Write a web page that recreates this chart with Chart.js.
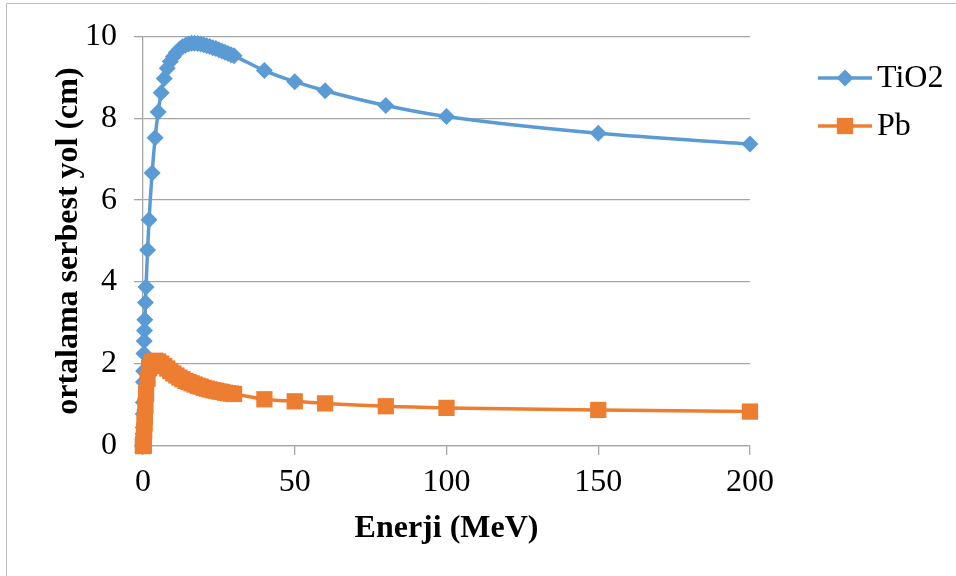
<!DOCTYPE html>
<html>
<head>
<meta charset="utf-8">
<title>Ortalama serbest yol</title>
<script src="https://cdn.jsdelivr.net/npm/chart.js@4.4.1/dist/chart.umd.min.js"></script>
<style>
  html, body { margin: 0; padding: 0; background: #ffffff; }
  #wrap { width: 956px; height: 576px; position: relative; }
</style>
</head>
<body>
<div id="wrap"><canvas id="c" width="956" height="576"></canvas></div>
<script>
// Photon energies (MeV)
const energies = [0.01, 0.015, 0.02, 0.03, 0.04, 0.05, 0.06, 0.08, 0.1, 0.15, 0.2, 0.3, 0.4, 0.5, 0.6, 0.8, 1, 1.5,
  2, 3, 4, 5, 6, 7, 8, 9, 10, 11, 12, 13, 14, 15, 16, 17, 18, 19, 20, 21, 22, 23, 24, 25, 26, 27, 28, 29, 30,
  40, 50, 60, 80, 100, 150, 200];

// Mean free path in TiO2 (cm)
const tio2 = [0.004, 0.012, 0.027, 0.08, 0.17, 0.30, 0.45, 0.78, 1.06, 1.56, 1.83, 2.26, 2.56, 2.82, 3.08, 3.50, 3.88, 4.78,
  5.52, 6.66, 7.52, 8.15, 8.62, 8.97, 9.22, 9.38, 9.50, 9.60, 9.68, 9.74, 9.78, 9.81, 9.83, 9.83, 9.82, 9.81, 9.79,
  9.77, 9.75, 9.72, 9.70, 9.67, 9.64, 9.61, 9.58, 9.55, 9.52,
  9.16, 8.89, 8.67, 8.31, 8.04, 7.63, 7.37];

// Mean free path in Pb (cm)
const pb = [0.001, 0.001, 0.001, 0.003, 0.006, 0.011, 0.017, 0.035, 0.016, 0.044, 0.088, 0.22, 0.37, 0.55, 0.71, 0.98, 1.27, 1.64,
  1.90, 2.05, 2.08, 2.06, 2.01, 1.95, 1.89, 1.83, 1.77, 1.72, 1.67, 1.63, 1.59, 1.56, 1.53, 1.50, 1.47, 1.45, 1.42,
  1.40, 1.38, 1.36, 1.35, 1.33, 1.32, 1.30, 1.29, 1.28, 1.27,
  1.14, 1.09, 1.04, 0.97, 0.93, 0.88, 0.84];

const seriesNames = ['TiO2', 'Pb'];
const xTicks = [0, 50, 100, 150, 200];
const yTicks = [0, 2, 4, 6, 8, 10];

const serif = "'Liberation Serif', 'Times New Roman', serif";
const BLUE = '#5b9bd5';
const ORANGE = '#ed7d31';
const GRID = '#a6a6a6';

const toPoints = (ys) => energies.map((e, i) => ({ x: e, y: ys[i] }));

// Legend drawn beside the plot: a short line with the series marker, then the name
const sideLegend = {
  id: 'sideLegend',
  afterDraw(chart) {
    const ctx = chart.ctx;
    const x0 = 818, x1 = 872, rows = [78, 126];
    chart.data.datasets.forEach((ds, i) => {
      const y = rows[i];
      ctx.save();
      ctx.strokeStyle = ds.borderColor;
      ctx.lineWidth = ds.borderWidth;
      ctx.beginPath();
      ctx.moveTo(x0, y);
      ctx.lineTo(x1, y);
      ctx.stroke();
      ctx.fillStyle = ds.pointBackgroundColor;
      ctx.strokeStyle = ds.pointBorderColor;
      Chart.helpers.drawPoint(ctx, {
        pointStyle: ds.pointStyle, radius: ds.pointRadius, borderWidth: 0
      }, (x0 + x1) / 2, y);
      ctx.fillStyle = '#000000';
      ctx.font = '32px ' + serif;
      ctx.textAlign = 'left';
      ctx.textBaseline = 'middle';
      ctx.fillText(ds.label, 877, y + 1);
      ctx.restore();
    });
  }
};

// Thin frame along the top and left edges of the figure
const frame = {
  id: 'frame',
  beforeDraw(chart) {
    const ctx = chart.ctx;
    ctx.save();
    ctx.fillStyle = '#ffffff';
    ctx.fillRect(0, 0, chart.width, chart.height);
    ctx.strokeStyle = '#bdbdbd';
    ctx.lineWidth = 1;
    ctx.beginPath();
    ctx.moveTo(6.5, chart.height);
    ctx.lineTo(6.5, 3.5);
    ctx.lineTo(chart.width, 3.5);
    ctx.stroke();
    ctx.restore();
  }
};

new Chart(document.getElementById('c'), {
  type: 'line',
  data: {
    datasets: [
      {
        label: seriesNames[0],
        data: toPoints(tio2),
        borderColor: BLUE,
        backgroundColor: BLUE,
        pointBackgroundColor: BLUE,
        pointBorderColor: BLUE,
        borderWidth: 3.5,
        pointStyle: 'rectRot',
        pointRadius: 8.5,
        pointBorderWidth: 0,
        cubicInterpolationMode: 'monotone',
        clip: false,
        order: 1
      },
      {
        label: seriesNames[1],
        data: toPoints(pb),
        borderColor: ORANGE,
        backgroundColor: ORANGE,
        pointBackgroundColor: ORANGE,
        pointBorderColor: ORANGE,
        borderWidth: 3.5,
        pointStyle: 'rect',
        pointRadius: 11.5,
        pointBorderWidth: 0,
        cubicInterpolationMode: 'monotone',
        clip: false,
        order: 0
      }
    ]
  },
  options: {
    responsive: false,
    animation: false,
    devicePixelRatio: 1,
    layout: { padding: { top: 35, right: 206, left: 0, bottom: 0 } },
    plugins: {
      legend: { display: false },
      tooltip: { enabled: false }
    },
    scales: {
      x: {
        type: 'linear',
        min: 0,
        max: 200,
        afterBuildTicks(scale) { scale.ticks = xTicks.map(v => ({ value: v })); },
        afterFit(scale) { scale.height = 130; },
        ticks: {
          color: '#000000',
          font: { family: serif, size: 32 },
          padding: 8,
          maxRotation: 0
        },
        grid: { drawOnChartArea: false, drawTicks: true, tickLength: 9, color: GRID, lineWidth: 1.3 },
        border: { display: true, color: GRID, width: 1.3 },
        title: {
          display: true,
          text: 'Enerji (MeV)',
          color: '#000000',
          font: { family: serif, size: 32, weight: 'bold' },
          padding: { top: 0, bottom: 28 }
        }
      },
      y: {
        type: 'linear',
        min: 0,
        max: 10,
        afterBuildTicks(scale) { scale.ticks = yTicks.map(v => ({ value: v })); },
        afterFit(scale) { scale.width = 143; },
        ticks: {
          color: '#000000',
          font: { family: serif, size: 32 },
          padding: 17
        },
        grid: { drawOnChartArea: true, drawTicks: true, tickLength: 9, color: GRID, lineWidth: 1.3 },
        border: { display: true, color: GRID, width: 1.3 },
        title: {
          display: true,
          text: 'ortalama serbest yol (cm)',
          color: '#000000',
          font: { family: serif, size: 32, weight: 'bold' },
          padding: { top: 50, bottom: 0 }
        }
      }
    }
  },
  plugins: [frame, sideLegend]
});
</script>
</body>
</html>
